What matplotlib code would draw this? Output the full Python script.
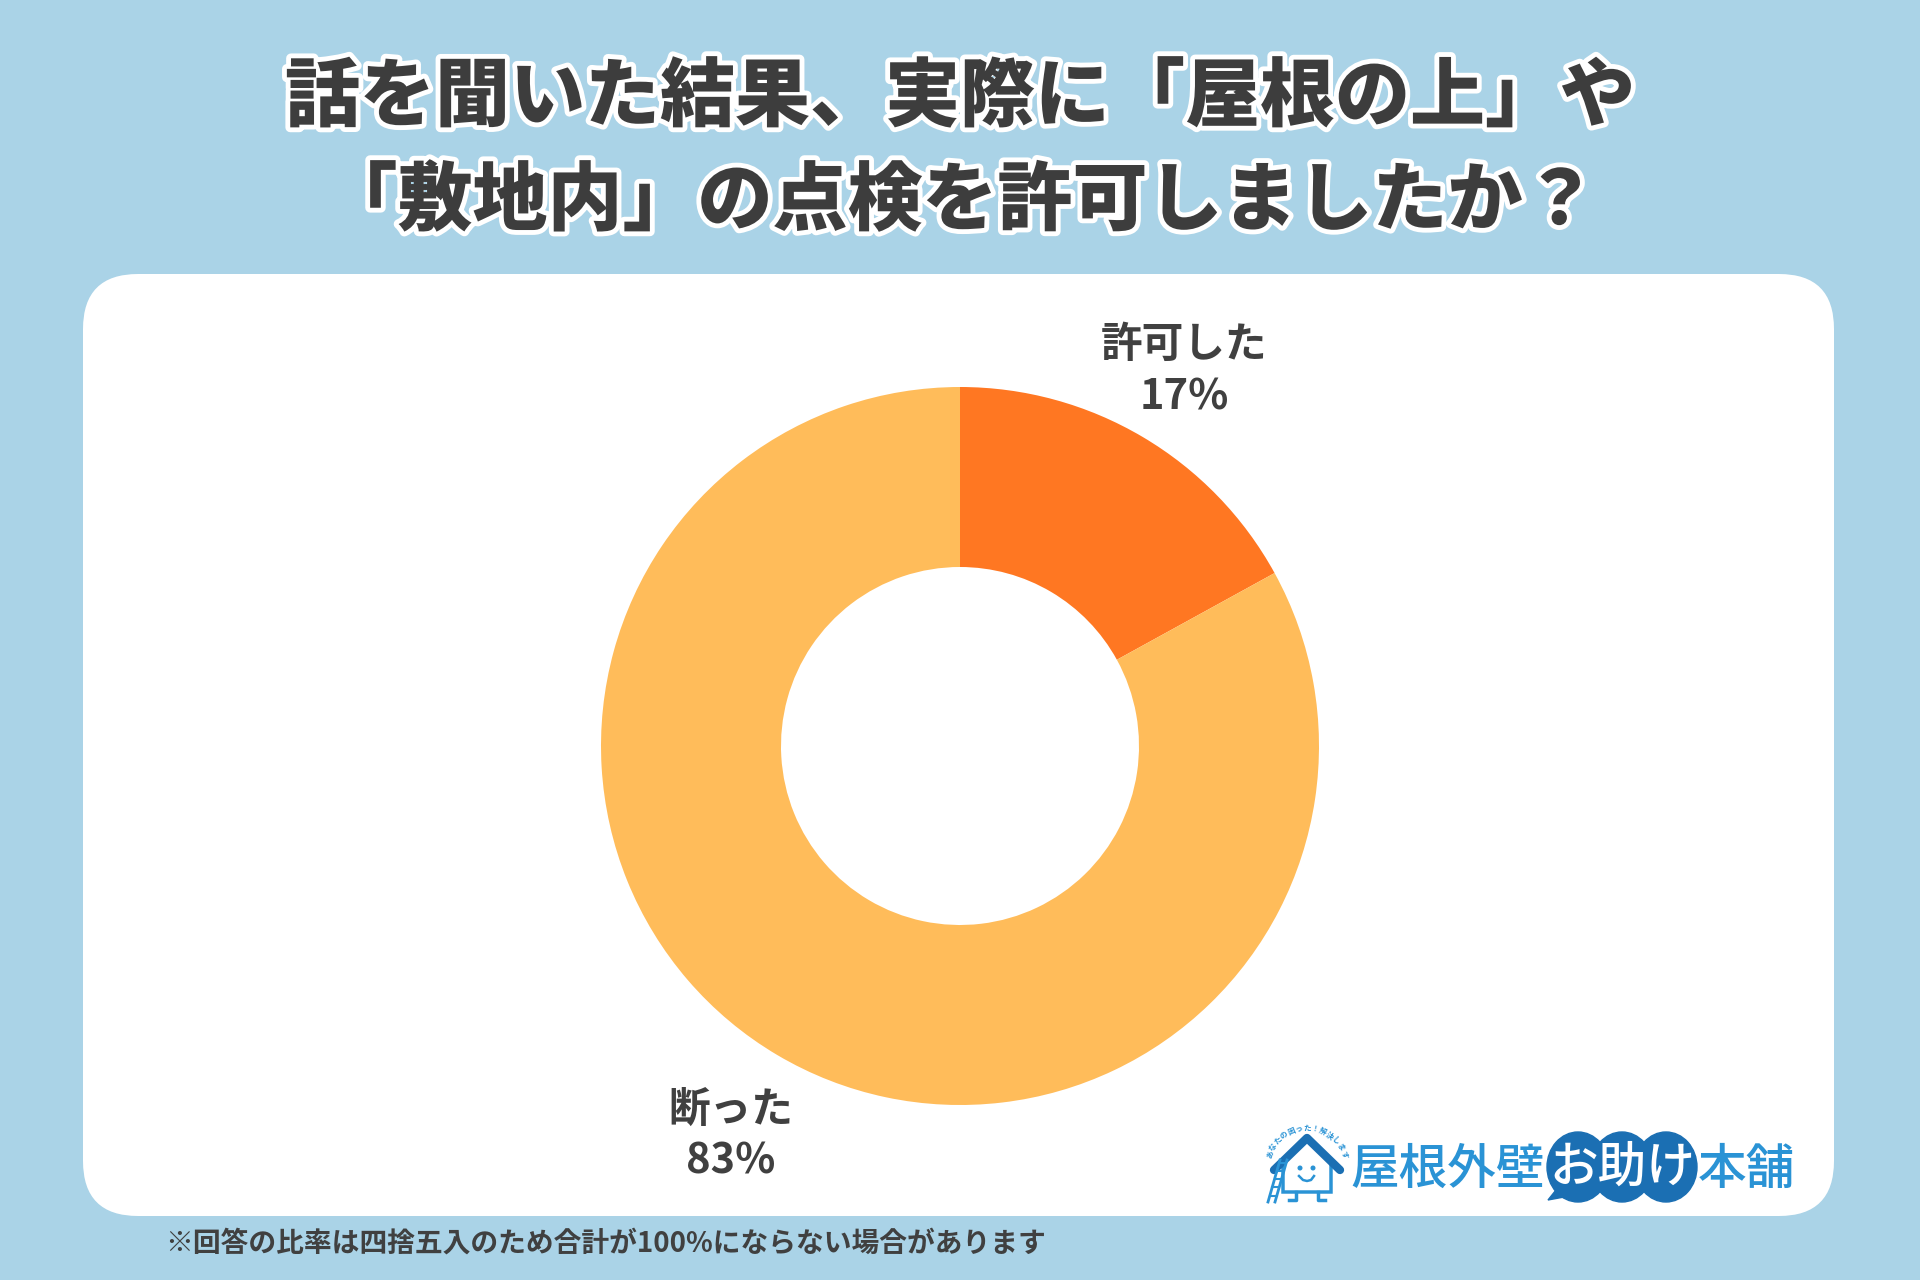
import matplotlib
matplotlib.use("Agg")
import numpy as np
import matplotlib.pyplot as plt
from matplotlib.patches import FancyBboxPatch, Polygon, Circle, Ellipse
import matplotlib.patheffects as pe

plt.rcParams['font.family'] = ['Noto Sans CJK JP', 'DejaVu Sans']

# ---- data ----
title_lines = ["話を聞いた結果、実際に「屋根の上」や", "「敷地内」の点検を許可しましたか？"]
categories = ["許可した", "断った"]
values = [17, 83]
colors = ["#FF7722", "#FFBC5A"]
footnote = "※回答の比率は四捨五入のため合計が100%にならない場合があります"

W, H = 1920, 1280
fig = plt.figure(figsize=(19.2, 12.8), dpi=100)
fig.patch.set_facecolor("#AAD3E7")
ax = fig.add_axes([0, 0, 1, 1])
ax.set_facecolor("none")

def Y(y):
    return H - y

# white panel
panel = FancyBboxPatch((83, Y(1216)), 1834 - 83, 1216 - 274,
                       boxstyle="round,pad=0,rounding_size=55",
                       fc="white", ec="none", zorder=1)
ax.add_patch(panel)

# donut
wedges, _ = ax.pie(values, colors=colors, startangle=90, counterclock=False,
                   center=(960, Y(746)), radius=359,
                   wedgeprops=dict(width=180, edgecolor="none"))
for w in wedges:
    w.set_zorder(2)

ax.set_xlim(0, W)
ax.set_ylim(0, H)
ax.set_aspect('auto')
ax.axis('off')

txtc = "#404040"
# labels
lf = 30
ax.text(1184, Y(345), categories[0], ha="center", va="center", fontsize=lf,
        fontweight="bold", color=txtc, zorder=3)
ax.text(1184, Y(397), f"{values[0]}%", ha="center", va="center", fontsize=lf,
        fontweight="bold", color=txtc, zorder=3)
ax.text(731, Y(1110), categories[1], ha="center", va="center", fontsize=lf,
        fontweight="bold", color=txtc, zorder=3)
ax.text(731, Y(1162), f"{values[1]}%", ha="center", va="center", fontsize=lf,
        fontweight="bold", color=txtc, zorder=3)

# title
stroke = [pe.withStroke(linewidth=7, foreground="white")]
ax.text(960, Y(98), title_lines[0], ha="center", va="center", fontsize=54,
        fontweight="heavy", color="#3d3d3d", path_effects=stroke, zorder=3)
ax.text(960, Y(202), title_lines[1], ha="center", va="center", fontsize=54,
        fontweight="heavy", color="#3d3d3d", path_effects=stroke, zorder=3)

# footnote
ax.text(165, Y(1244), footnote, ha="left", va="center", fontsize=20,
        fontweight="bold", color="#404040", zorder=3)

# ---- logo ----
blue = "#2A93D5"
dblue = "#1B6FB3"
# house body
ax.add_patch(Polygon([(1283, Y(1163)), (1307, Y(1140)), (1331, Y(1163)),
                      (1331, Y(1192)), (1283, Y(1192))], closed=True,
                     fc="white", ec=blue, lw=2.5, zorder=3))
# roof
ax.plot([1274, 1307, 1340], [Y(1170), Y(1138), Y(1170)], color=dblue, lw=6,
        solid_capstyle="round", zorder=4)
# face
ax.add_patch(Circle((1300, Y(1168)), 1.8, color=blue, zorder=5))
ax.add_patch(Circle((1313, Y(1168)), 1.8, color=blue, zorder=5))
ax.plot([1299, 1303, 1307, 1311, 1314], [Y(1176), Y(1180), Y(1181), Y(1180), Y(1176)],
        color=blue, lw=1.8, zorder=5)
# feet
ax.plot([1296, 1296, 1289], [Y(1192), Y(1200), Y(1200)], color=blue, lw=2.5, zorder=5)
ax.plot([1318, 1318, 1325], [Y(1192), Y(1200), Y(1200)], color=blue, lw=2.5, zorder=5)
# ladder
ax.plot([1268, 1280], [Y(1202), Y(1160)], color=blue, lw=2, zorder=5)
ax.plot([1275, 1287], [Y(1202), Y(1160)], color=blue, lw=2, zorder=5)
for t in [0.15, 0.35, 0.55, 0.75, 0.92]:
    x0 = 1268 + 12 * t
    yy = 1202 - 42 * t
    ax.plot([x0, x0 + 7], [Y(yy), Y(yy)], color=blue, lw=1.5, zorder=5)
# small arc text over the house
arc_txt = "あなたの困った！解決します"
n = len(arc_txt)
angs = np.linspace(160, 20, n)
for ch, a in zip(arc_txt, angs):
    r = 40
    cx = 1307 + r * np.cos(np.radians(a))
    cy = Y(1168) + r * np.sin(np.radians(a))
    ax.text(cx, cy, ch, ha="center", va="center", fontsize=5.5, color=blue,
            fontweight="bold", rotation=a - 90, zorder=5)

ax.text(1448, Y(1170), "屋根外壁", ha="center", va="center", fontsize=35,
        color=blue, fontweight="medium", zorder=4)
# bubble
for cx in [1578, 1622, 1666]:
    ax.add_patch(Ellipse((cx, Y(1167)), 62, 70, color=dblue, zorder=3))
ax.add_patch(Polygon([(1560, Y(1185)), (1548, Y(1200)), (1575, Y(1195))],
                     closed=True, color=dblue, zorder=3))
ax.text(1622, Y(1168), "お助け", ha="center", va="center", fontsize=35,
        color="white", fontweight="medium", zorder=4)
ax.text(1746, Y(1170), "本舗", ha="center", va="center", fontsize=35,
        color=blue, fontweight="medium", zorder=4)

fig.savefig("out.png", dpi=100, facecolor=fig.get_facecolor())
